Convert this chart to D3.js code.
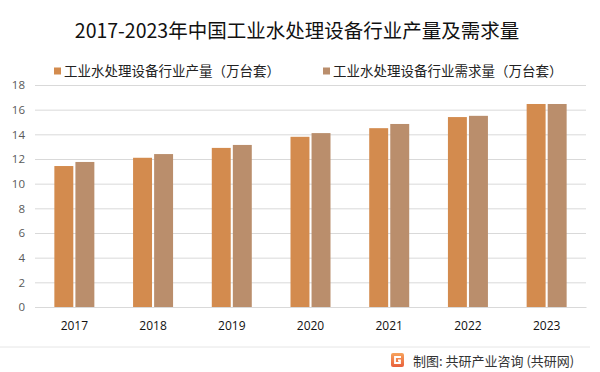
<!DOCTYPE html>
<html>
<head>
<meta charset="utf-8">
<script src="https://cdn.jsdelivr.net/npm/d3@7"></script>
<style>
  body { margin: 0; background: #fff; }
  svg { display: block; font-family: "Noto Sans CJK SC", "Noto Sans", sans-serif; }
</style>
</head>
<body>
<svg id="chart" width="600" height="372"></svg>
<script>
const years = ['2017', '2018', '2019', '2020', '2021', '2022', '2023'];
const seriesNames = ['工业水处理设备行业产量（万台套）', '工业水处理设备行业需求量（万台套）'];
const output = [11.43, 12.1, 12.9, 13.8, 14.5, 15.4, 16.46];
const demand = [11.76, 12.4, 13.14, 14.1, 14.84, 15.5, 16.46];
const yTicks = [0, 2, 4, 6, 8, 10, 12, 14, 16, 18];
const colors = ['#D38B4E', '#BA8E6C'];

const svg = d3.select('#chart');
const margin = { left: 35, right: 14, top: 85, bottom: 65 };
const width = 600, height = 372;

const x = d3.scaleBand().domain(years)
  .range([margin.left, width - margin.right]).paddingInner(0).paddingOuter(0);
const inner = d3.scaleBand().domain([0, 1]).range([x.bandwidth() / 2 - 20, x.bandwidth() / 2 + 20]).paddingInner(0.1);
const y = d3.scaleLinear().domain([0, 18]).range([height - margin.bottom, margin.top]);

// title
svg.append('text')
  .attr('x', 297).attr('y', 38)
  .attr('text-anchor', 'middle')
  .attr('font-size', 19.5)
  .attr('fill', '#111')
  .text('2017-2023年中国工业水处理设备行业产量及需求量');

// legend
const legendX = [54, 323];
seriesNames.forEach((name, i) => {
  const g = svg.append('g').attr('transform', `translate(${legendX[i]},71)`);
  g.append('rect').attr('x', 0).attr('y', -3.5).attr('width', 7).attr('height', 7).attr('fill', colors[i]);
  g.append('text').attr('x', 10).attr('y', 0).attr('dy', '0.35em')
    .attr('font-size', 13.5).attr('fill', '#222').text(name);
});

// grid + y axis
const yAxis = d3.axisLeft(y).tickValues(yTicks).tickSize(-(width - margin.left - margin.right)).tickPadding(10);
const gy = svg.append('g').attr('transform', `translate(${margin.left},0)`).call(yAxis);
gy.select('.domain').remove();
gy.selectAll('.tick line').attr('stroke', '#d9d9d9').attr('stroke-width', 1);
gy.selectAll('.tick text').attr('font-size', 11.5).attr('fill', '#595959')
  .attr('font-family', '"Open Sans", "Noto Sans", sans-serif');

// bars
const data = years.map((yr, i) => ({ yr, vals: [output[i], demand[i]] }));
const groups = svg.append('g').selectAll('g').data(data).join('g')
  .attr('transform', d => `translate(${x(d.yr)},0)`);
groups.selectAll('rect').data(d => d.vals).join('rect')
  .attr('x', (v, j) => inner(j))
  .attr('width', inner.bandwidth())
  .attr('y', v => y(v))
  .attr('height', v => y(0) - y(v))
  .attr('fill', (v, j) => colors[j]);

// x axis
const xAxis = d3.axisBottom(x).tickSize(0).tickPadding(14);
const gx = svg.append('g').attr('transform', `translate(0,${y(0)})`).call(xAxis);
gx.select('.domain').attr('stroke', '#d9d9d9');
gx.selectAll('.tick text').attr('font-size', 12).attr('fill', '#111')
  .attr('font-family', '"Open Sans", "Noto Sans", sans-serif');

// bottom separator
svg.append('line').attr('x1', 0).attr('x2', 590).attr('y1', 347).attr('y2', 347)
  .attr('stroke', '#e6e6e6').attr('stroke-width', 1);

// footer logo + source
const logo = svg.append('g').attr('transform', 'translate(391,353)');
const grad = svg.append('defs').append('linearGradient').attr('id', 'lg')
  .attr('x1', 0).attr('y1', 0).attr('x2', 0).attr('y2', 1);
grad.append('stop').attr('offset', 0).attr('stop-color', '#f7a35c');
grad.append('stop').attr('offset', 1).attr('stop-color', '#e8603c');
logo.append('rect').attr('width', 13).attr('height', 14).attr('rx', 2).attr('fill', 'url(#lg)');
logo.append('path').attr('d', 'M10,4 L4,4 L4,10 L9,10 L9,7.5 L7,7.5')
  .attr('fill', 'none').attr('stroke', '#fff').attr('stroke-width', 1.8);

svg.append('text').attr('x', 413).attr('y', 361).attr('dy', '0.35em')
  .attr('font-size', 13).attr('fill', '#333')
  .text('制图: 共研产业咨询 (共研网)');
</script>
</body>
</html>
